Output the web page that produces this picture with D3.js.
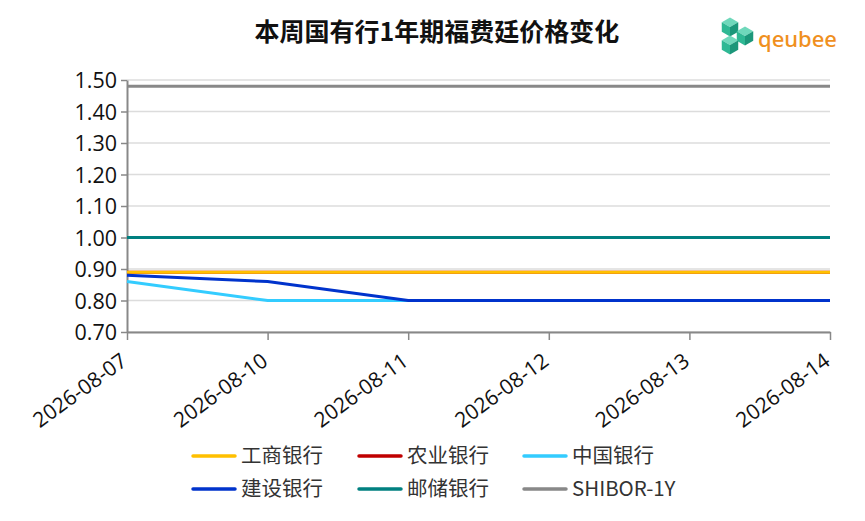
<!DOCTYPE html>
<html><head><meta charset="utf-8">
<script src="https://cdn.jsdelivr.net/npm/d3@7/dist/d3.min.js"></script>
<style>body{margin:0;background:#fff;} svg{display:block;}</style>
</head><body>
<svg id="c" width="865" height="521"></svg>
<script>
const dates = ["2026-08-07","2026-08-10","2026-08-11","2026-08-12","2026-08-13","2026-08-14"];
const seriesNames = ["工商银行","农业银行","中国银行","建设银行","邮储银行","SHIBOR-1Y"];
const seriesColors = ["#ffc000","#c00000","#33ccff","#0033cc","#008080","#888888"];
const icbc = [0.89,0.89,0.89,0.89,0.89,0.89];
const abc  = [0.89,0.89,0.89,0.89,0.89,0.89];
const boc  = [0.86,0.80,0.80,0.80,0.80,0.80];
const ccb  = [0.88,0.86,0.80,0.80,0.80,0.80];
const psbc = [1.00,1.00,1.00,1.00,1.00,1.00];
const shibor = [1.48,1.48,1.48,1.48,1.48,1.48];
const yTicks = [0.70,0.80,0.90,1.00,1.10,1.20,1.30,1.40,1.50];
const values = [icbc, abc, boc, ccb, psbc, shibor];
const drawOrder = [1,0,2,3,4,5];

const svg = d3.select("#c");
const m = {l:127, r:35, t:80, b:189};
const W = 865, H = 521;
const x = d3.scalePoint().domain(dates).range([m.l, W-m.r]);
const y = d3.scaleLinear().domain([0.70,1.50]).range([H-m.b, m.t]);
const numFont = "'Open Sans','Noto Sans',sans-serif";
const cjkFont = "'Noto Sans CJK SC',sans-serif";

// title
svg.append("text").attr("x",437).attr("y",41).attr("text-anchor","middle")
  .attr("font-family",cjkFont).attr("font-weight","bold").attr("font-size",25).attr("fill","#111")
  .text("本周国有行1年期福费廷价格变化");

// grid
svg.append("g").selectAll("line").data(yTicks).join("line")
  .attr("x1",m.l).attr("x2",W-m.r).attr("y1",d=>y(d)).attr("y2",d=>y(d))
  .attr("stroke","#dcdcdc").attr("stroke-width",1.5);

// y axis
const ya = svg.append("g").attr("transform",`translate(${m.l},0)`)
  .call(d3.axisLeft(y).tickValues(yTicks).tickFormat(d3.format(".2f")).tickSize(6).tickSizeOuter(0));
ya.select(".domain").attr("stroke","#888").attr("stroke-width",2);
ya.selectAll(".tick line").attr("stroke","#888").attr("stroke-width",1.5);
ya.selectAll(".tick text").attr("font-family",numFont).attr("font-size",21.5).attr("fill","#111").attr("x",-10).attr("dy","0.35em");

// x axis
const xa = svg.append("g").attr("transform",`translate(0,${H-m.b})`)
  .call(d3.axisBottom(x).tickSize(8).tickSizeOuter(0));
xa.select(".domain").attr("stroke","#888").attr("stroke-width",2);
xa.selectAll(".tick line").attr("stroke","#888").attr("stroke-width",1.5);
xa.selectAll(".tick text").attr("font-family",numFont).attr("font-size",21).attr("fill","#111")
  .attr("text-anchor","end").attr("dy","0").attr("y",0)
  .attr("transform","translate(1,32) rotate(-36)");

// lines
const line = d3.line().x((d,i)=>x(dates[i])).y(d=>y(d));
drawOrder.forEach(k=>{
  svg.append("path").datum(values[k]).attr("d",line)
    .attr("fill","none").attr("stroke",seriesColors[k]).attr("stroke-width",3);
});

// legend
const lx = [193,359,524], ly = [456,489];
seriesNames.forEach((n,i)=>{
  const cx = lx[i%3], cy = ly[Math.floor(i/3)];
  svg.append("line").attr("x1",cx).attr("x2",cx+42).attr("y1",cy).attr("y2",cy)
    .attr("stroke",seriesColors[i]).attr("stroke-width",3.5).attr("stroke-linecap","round");
  svg.append("text").attr("x",cx+48).attr("y",cy+7).attr("font-family",cjkFont)
    .attr("font-size",20.5).attr("fill","#333").text(n);
});

// logo
const logo = svg.append("g").attr("transform","translate(720,17)");
function cube(g,cx,cy,s){
  const h = s*0.866;
  g.append("polygon").attr("points",`${cx},${cy-s} ${cx+h},${cy-s/2} ${cx},${cy} ${cx-h},${cy-s/2}`).attr("fill","#6fd8bb");
  g.append("polygon").attr("points",`${cx-h},${cy-s/2} ${cx},${cy} ${cx},${cy+s} ${cx-h},${cy+s/2}`).attr("fill","#2fb894");
  g.append("polygon").attr("points",`${cx+h},${cy-s/2} ${cx},${cy} ${cx},${cy+s} ${cx+h},${cy+s/2}`).attr("fill","#1c977a");
}
cube(logo,10,10,9.5);
cube(logo,25,19,9.5);
cube(logo,10,28,9.5);
logo.append("text").attr("x",38).attr("y",30).attr("font-family","'Noto Sans',sans-serif")
  .attr("font-size",22).attr("font-weight","500").attr("fill","#f0901e").text("qeubee");
</script>
</body></html>
